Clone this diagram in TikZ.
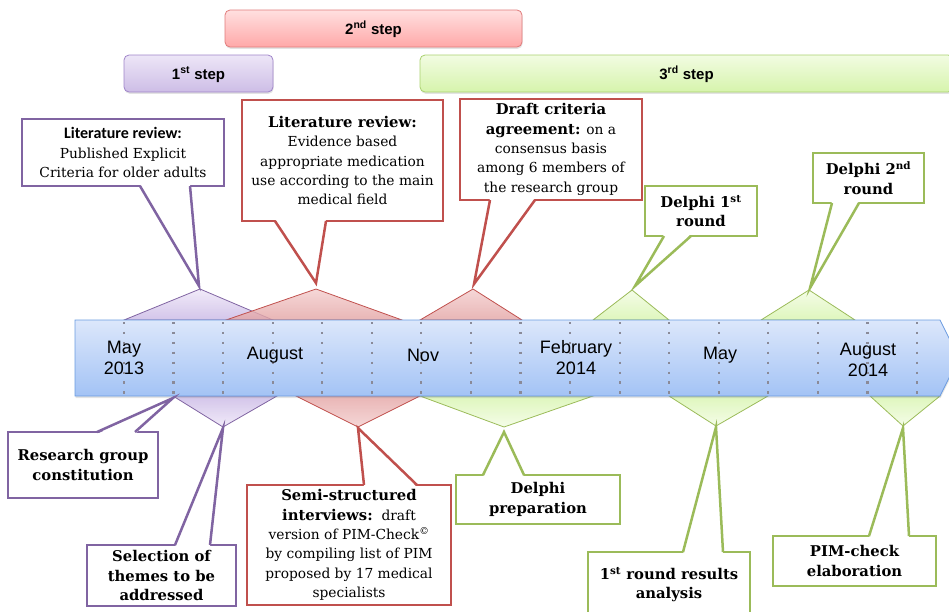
\documentclass[tikz,border=0pt]{standalone}
\usepackage{fontspec}
\setmainfont{DejaVu Serif}
\setsansfont{Liberation Sans}
\newfontfamily\calibri{Carlito}
\usetikzlibrary{calc,shadows}

\definecolor{purpline}{HTML}{8064A2}
\definecolor{redline}{HTML}{C0504D}
\definecolor{greenline}{HTML}{9BBB59}
\definecolor{purptop}{HTML}{EDE6F7}
\definecolor{purpbot}{HTML}{CDBDE6}
\definecolor{purpedge}{HTML}{9F84C9}
\definecolor{redtop}{HTML}{FFE0E0}
\definecolor{redbot}{HTML}{FFA8A8}
\definecolor{rededge}{HTML}{E07B7B}
\definecolor{greentop}{HTML}{F2FCE2}
\definecolor{greenbot}{HTML}{D6F4AC}
\definecolor{greenedge}{HTML}{A9D16E}
\definecolor{bluetop}{HTML}{DCE7FB}
\definecolor{bluebot}{HTML}{A3C3F5}
\definecolor{blueedge}{HTML}{6A9BE0}
\definecolor{tickgray}{HTML}{8A8A98}
\definecolor{triredtop}{HTML}{F3CDCD}
\definecolor{triredbot}{HTML}{E3A3A3}
\definecolor{tripurptop}{HTML}{EEE6F8}
\definecolor{tripurpbot}{HTML}{C8B6E4}

% bold heading text inside the callouts
\newcommand\hd[1]{{\fontsize{14.8}{19.3}\selectfont\bfseries #1}}

\tikzset{
  stepbar/.style={rounded corners=5pt, line width=0.8pt,
    drop shadow={opacity=0.22, shadow xshift=0.6pt, shadow yshift=-1.8pt},
    inner sep=0pt, outer sep=0pt, text height=11pt, text depth=0pt,
    font=\sffamily\bfseries\fontsize{15}{18}\selectfont},
  callbox/.style={draw=#1, line width=2.5pt, fill=white, inner sep=0pt,
    outer sep=0pt, align=center, font=\fontsize{13.8}{19.3}\selectfont},
  tri/.style={line width=0.8pt, fill opacity=0.8},
  tick/.style={tickgray, line width=2.2pt, dash pattern=on 2.2pt off 7.7pt},
  month/.style={align=center, font=\sffamily\fontsize{18}{21}\selectfont, inner sep=0pt},
}

% pointer leaving the lower edge of a box, towards a tip
\newcommand\pointdown[5]{%
  \fill[white] ($(#1.south west)+(#2,-2)$) -- (#4) -- ($(#1.south west)+(#3,-2)$) -- cycle;
  \draw[#5, line width=2.5pt] ($(#1.south west)+(#2,0)$) -- (#4) -- ($(#1.south west)+(#3,0)$);
}
% pointer leaving the upper edge of a box, towards a tip
\newcommand\pointup[5]{%
  \fill[white] ($(#1.north west)+(#2,2)$) -- (#4) -- ($(#1.north west)+(#3,2)$) -- cycle;
  \draw[#5, line width=2.5pt] ($(#1.north west)+(#2,0)$) -- (#4) -- ($(#1.north west)+(#3,0)$);
}

\begin{document}
\begin{tikzpicture}[x=1pt, y=-1pt]
\useasboundingbox (0,0) rectangle (949,611);
\clip (0,0) rectangle (949,611);

% ---- phase bars ----
\node[stepbar, draw=rededge, top color=redtop, bottom color=redbot,
  minimum width=297pt, minimum height=37pt] (s2) at (373.5,28.5) {2\textsuperscript{nd} step};
\node[stepbar, draw=purpedge, top color=purptop, bottom color=purpbot,
  minimum width=149pt, minimum height=37pt] (s1) at (198.5,73.5) {1\textsuperscript{st} step};
\node[stepbar, draw=greenedge, top color=greentop, bottom color=greenbot,
  minimum width=533pt, minimum height=37pt] (s3) at (686.5,73.5) {3\textsuperscript{rd} step};

% ---- markers above the time axis ----
\draw[tri, draw=purpline, top color=tripurptop, bottom color=tripurpbot] (124,320) -- (200,289) -- (273,320) -- cycle;
\draw[tri, draw=redline, top color=triredtop, bottom color=triredbot] (226,320) -- (316,289) -- (402,320) -- cycle;
\draw[tri, draw=redline, top color=triredtop, bottom color=triredbot] (420,320) -- (473,289) -- (522,320) -- cycle;
\draw[tri, draw=greenline, top color=greentop, bottom color=greenbot] (593,320) -- (632,290) -- (669,320) -- cycle;
\draw[tri, draw=greenline, top color=greentop, bottom color=greenbot] (761,320) -- (809,290) -- (855,320) -- cycle;

% ---- markers below the time axis ----
\draw[tri, draw=purpline, top color=tripurpbot, bottom color=tripurptop] (173,396) -- (223,427) -- (277,396) -- cycle;
\draw[tri, draw=redline, top color=triredbot, bottom color=triredtop] (296,396) -- (358,427) -- (420,396) -- cycle;
\draw[tri, draw=greenline, top color=greenbot, bottom color=greentop] (420,396) -- (504,427) -- (593,396) -- cycle;
\draw[tri, draw=greenline, top color=greenbot, bottom color=greentop] (669,396) -- (716,426) -- (768,396) -- cycle;
\draw[tri, draw=greenline, top color=greenbot, bottom color=greentop] (870,396) -- (903,426) -- (940,396) -- cycle;

% ---- time axis ----
\draw[draw=blueedge, line width=0.8pt, top color=bluetop, bottom color=bluebot,
  drop shadow={opacity=0.22, shadow xshift=0.6pt, shadow yshift=-2pt}]
  (75,320) -- (940,320) -- (959,358) -- (940,396) -- (75,396) -- cycle;
\foreach \k in {0,...,16}
  \draw[tick] ({124+49.56*\k},322) -- ({124+49.56*\k},396);

\node[month] (m1) at (124,358) {May\\2013};
\node[month] (m2) at (275,355) {August};
\node[month] (m3) at (423,355) {Nov};
\node[month] (m4) at (576,358) {February\\2014};
\node[month] (m5) at (720,355) {May};
\node[month] (m6) at (868,360) {August\\2014};

% ---- pointer tips ----
\coordinate (t1) at (199,286);
\coordinate (t2) at (316,283);
\coordinate (t3) at (474,284);
\coordinate (t4) at (635,286);
\coordinate (t5) at (810,288);
\coordinate (t6) at (173,398);
\coordinate (t7) at (223,428);
\coordinate (t8) at (358,428);
\coordinate (t9) at (504,432);
\coordinate (t10) at (716,427);
\coordinate (t11) at (903,428);

% ---- callouts above the axis ----
\node[callbox=purpline, minimum width=202pt, minimum height=67pt] (b1) at (123,152.5)
  {{\calibri\bfseries\fontsize{16}{19.3}\selectfont Literature review:}\\Published Explicit\\Criteria for older adults};
\pointdown{b1}{118}{168}{t1}{purpline}

\node[callbox=redline, minimum width=201pt, minimum height=121pt] (b2) at (342.5,160.5)
  {\hd{Literature review:}\\Evidence based\\appropriate medication\\use according to the main\\medical field};
\pointdown{b2}{33}{84}{t2}{redline}

\node[callbox=redline, minimum width=182pt, minimum height=101pt] (b3) at (551,149.5)
  {\hd{Draft criteria}\\\hd{agreement:} on a\\consensus basis\\among 6 members of\\the research group};
\pointdown{b3}{30}{75}{t3}{redline}

\node[callbox=greenline, minimum width=112pt, minimum height=50pt] (b4) at (701,211)
  {\hd{Delphi 1\textsuperscript{st}}\\\hd{round}};
\pointdown{b4}{19}{46}{t4}{greenline}

\node[callbox=greenline, minimum width=111pt, minimum height=50pt] (b5) at (868.5,178)
  {\hd{Delphi 2\textsuperscript{nd}}\\\hd{round}};
\pointdown{b5}{19}{46}{t5}{greenline}

% ---- callouts below the axis ----
\node[callbox=purpline, minimum width=150pt, minimum height=66pt] (b6) at (83,465)
  {\hd{Research group}\\\hd{constitution}};
\pointup{b6}{89}{127}{t6}{purpline}

\node[callbox=purpline, minimum width=149pt, minimum height=61pt] (b7) at (161.5,575.5)
  {\hd{Selection of}\\\hd{themes to be}\\\hd{addressed}};
\pointup{b7}{88}{123}{t7}{purpline}

\node[callbox=redline, minimum width=204pt, minimum height=120pt] (b8) at (349,545)
  {\hd{Semi-structured}\\\hd{interviews:}\ \ draft\\version of PIM-Check\textsuperscript{©}\\by compiling list of PIM\\proposed by 17 medical\\specialists};
\pointup{b8}{117}{170}{t8}{redline}

\node[callbox=greenline, minimum width=164pt, minimum height=49pt] (b9) at (538,499.5)
  {\hd{Delphi}\\\hd{preparation}};
\pointup{b9}{27}{68}{t9}{greenline}

\node[callbox=greenline, minimum width=162pt, minimum height=65pt] (b10) at (669,584.5)
  {\hd{1\textsuperscript{st} round results}\\\hd{analysis}};
\pointup{b10}{95}{135}{t10}{greenline}

\node[callbox=greenline, minimum width=163pt, minimum height=50pt] (b11) at (854.5,561)
  {\hd{PIM-check}\\\hd{elaboration}};
\pointup{b11}{96}{136}{t11}{greenline}

\end{tikzpicture}
\end{document}
